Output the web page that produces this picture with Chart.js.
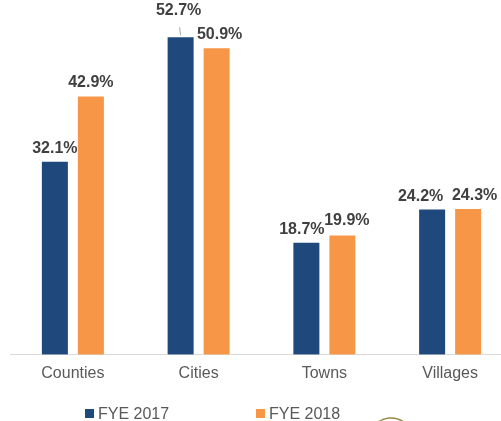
<!DOCTYPE html>
<html>
<head>
<meta charset="utf-8">
<script src="https://cdn.jsdelivr.net/npm/chart.js@4.4.1/dist/chart.umd.min.js"></script>
<style>
  html, body { margin: 0; padding: 0; background: #fff; overflow: hidden; }
  #wrap { width: 501px; height: 421px; overflow: hidden; }
</style>
</head>
<body>
<div id="wrap"><canvas id="bar-chart" width="515" height="421"></canvas></div>
<script>
// chart data
var categories = ["Counties", "Cities", "Towns", "Villages"];
var fye2017 = [32.1, 52.7, 18.7, 24.2];
var fye2018 = [42.9, 50.9, 19.9, 24.3];
var seriesNames = ["FYE 2017", "FYE 2018"];

// sideways nudges so neighbouring labels don't collide
var labelShift = [[0, -2, -4.5, -11.5], [0, 3, 4.5, 6.5]];

// value labels above bars
var valueLabels = {
  id: "valueLabels",
  afterDatasetsDraw: function(chart) {
    var ctx = chart.ctx;
    ctx.save();
    ctx.font = "bold 16px 'Liberation Sans', Arial, sans-serif";
    ctx.fillStyle = "#404040";
    ctx.textAlign = "center";
    ctx.textBaseline = "alphabetic";
    chart.data.datasets.forEach(function(ds, di) {
      chart.getDatasetMeta(di).data.forEach(function(bar, i) {
        var txt = ds.data[i].toFixed(1) + "%";
        var x = bar.x + labelShift[di][i], y = bar.y - 8;
        // the tallest label was pulled up with a leader line
        if (di === 0 && i === 1) {
          y -= 13;
          ctx.strokeStyle = "#a6a6a6";
          ctx.lineWidth = 1;
          ctx.beginPath();
          ctx.moveTo(bar.x - 1, bar.y - 9);
          ctx.lineTo(bar.x, bar.y - 1);
          ctx.stroke();
        }
        if (di === 1 && i === 2) { y -= 2; }
        ctx.fillText(txt, x, y);
      });
    });
    ctx.restore();
  }
};

// legend below the chart
var bottomLegend = {
  id: "bottomLegend",
  afterDraw: function(chart) {
    var ctx = chart.ctx;
    var spots = [85, 256];
    ctx.save();
    ctx.font = "16px 'Liberation Sans', Arial, sans-serif";
    ctx.textBaseline = "alphabetic";
    ctx.textAlign = "left";
    chart.data.datasets.forEach(function(ds, di) {
      ctx.fillStyle = ds.backgroundColor;
      ctx.fillRect(spots[di], 409, 9, 9);
      ctx.fillStyle = "#595959";
      ctx.fillText(ds.label, spots[di] + 13, 419);
    });
    // edge of the seal peeking in at the bottom
    ctx.strokeStyle = "#9a8a4a";
    ctx.lineWidth = 1.5;
    ctx.beginPath();
    ctx.arc(391, 440, 22, Math.PI * 1.22, Math.PI * 1.78);
    ctx.stroke();
    ctx.restore();
  }
};

new Chart(document.getElementById("bar-chart"), {
  type: "bar",
  data: {
    labels: categories,
    datasets: [
      {
        label: seriesNames[0],
        backgroundColor: "#1F497D",
        borderColor: "#ffffff",
        borderWidth: 1,
        data: fye2017
      }, {
        label: seriesNames[1],
        backgroundColor: "#F79646",
        borderColor: "#ffffff",
        borderWidth: 1,
        data: fye2018
      }
    ]
  },
  options: {
    responsive: false,
    animation: false,
    layout: { padding: { left: 10, right: 2, top: 0, bottom: 29 } },
    datasets: {
      bar: { categoryPercentage: 0.5726, barPercentage: 0.778 }
    },
    plugins: {
      legend: { display: false },
      tooltip: { enabled: false },
      title: { display: false }
    },
    scales: {
      x: {
        grid: { display: false, drawTicks: false },
        border: { display: true, color: "#d9d9d9", width: 1 },
        ticks: {
          padding: 9,
          color: "#595959",
          font: { family: "'Liberation Sans', Arial, sans-serif", size: 16 }
        }
      },
      y: {
        display: false,
        min: 0,
        max: 58.7
      }
    }
  },
  plugins: [valueLabels, bottomLegend]
});
</script>
</body>
</html>
